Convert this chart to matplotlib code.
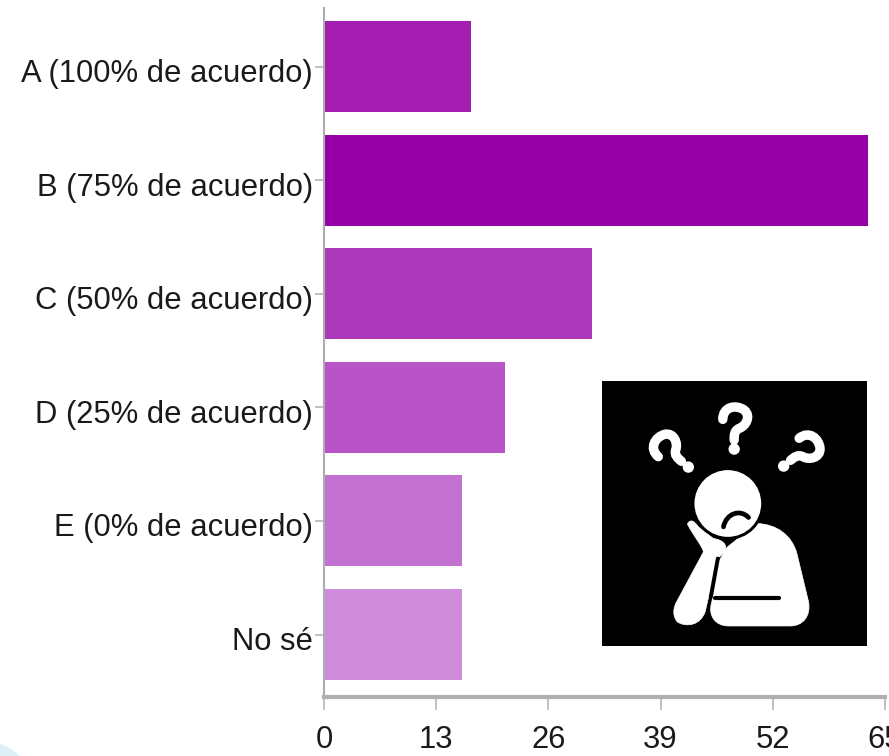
import matplotlib
matplotlib.use("Agg")
import matplotlib.pyplot as plt
from matplotlib.patches import Circle, PathPatch, Polygon
from matplotlib.path import Path
from matplotlib.transforms import Affine2D, ScaledTranslation

W, H = 889, 756
categories = ["A (100% de acuerdo)", "B (75% de acuerdo)", "C (50% de acuerdo)",
              "D (25% de acuerdo)", "E (0% de acuerdo)", "No sé"]
values = [17, 63, 31, 21, 16, 16]
colors = ["#A21DB0", "#9600A6", "#AC38B9", "#B854C7", "#C372D1", "#CF8CDB"]
xticks = [0, 13, 26, 39, 52, 65]

family = "Liberation Sans"
size = 22.3

fig = plt.figure(figsize=(W / 100, H / 100), dpi=100, facecolor="white")
def box(x0, y0, x1, y1):
    return [x0 / W, 1 - y1 / H, (x1 - x0) / W, (y1 - y0) / H]

fig.add_artist(Polygon([(0, 0), (0, 12 / H), (8 / W, 9 / H), (20 / W, 0)],
                       transform=fig.transFigure, color="#DCEFF6", lw=0))

ax = fig.add_axes(box(324, 8, 885, 697))
ax.barh(range(len(values)), values, height=0.8, color=colors)
ax.set_xlim(0, 65)
ax.set_ylim(5.55, -0.515)
ax.set_xticks(xticks)
ax.set_yticks(range(len(categories)))
ax.set_yticklabels(categories)
for s in ("top", "right"):
    ax.spines[s].set_visible(False)
ax.spines["left"].set_color("#ADADAD")
ax.spines["left"].set_linewidth(1.5)
ax.spines["bottom"].set_color("#B0B0B0")
ax.spines["bottom"].set_linewidth(3)
ax.tick_params(axis="y", length=6.5, width=1.2, color="#B5B5B5", pad=1.5)
ax.tick_params(axis="x", length=9, width=1.2, color="#B5B5B5", pad=11)
shift = ScaledTranslation(0, -4 / 100, fig.dpi_scale_trans)
for t in ax.get_yticklabels():
    t.set_transform(t.get_transform() + shift)
for t in ax.get_xticklabels() + ax.get_yticklabels():
    t.set_fontfamily(family)
    t.set_fontsize(size)
    t.set_color("#1A1A1A")
    t.set_clip_on(False)

# Thinking-person pictogram, in the pixel space of its own square
ic = fig.add_axes(box(602, 381, 867, 646), facecolor="black")
ic.set_xlim(36, 830)
ic.set_ylim(827, 33)
ic.set_xticks([]); ic.set_yticks([])
for s in ic.spines.values():
    s.set_visible(False)

M, L, C, Z = Path.MOVETO, Path.LINETO, Path.CURVE4, Path.CLOSEPOLY
body = [(M, (500, 460)), (C, (560, 462)), (C, (605, 495)), (C, (620, 550)),
        (L, (655, 695)), (C, (662, 735)), (C, (640, 767)), (C, (600, 767)),
        (L, (415, 767)), (C, (375, 767)), (C, (352, 735)), (C, (365, 695)),
        (L, (388, 570)), (L, (412, 530)), (L, (500, 460)), (Z, (500, 460))]
arm = [(M, (292, 462)), (C, (300, 445)), (C, (312, 452)), (C, (325, 470)),
       (L, (370, 505)), (C, (405, 510)), (C, (412, 530)), (C, (405, 545)),
       (L, (382, 565)), (L, (345, 725)), (C, (330, 765)), (C, (290, 772)),
       (C, (262, 755)), (C, (245, 735)), (C, (250, 710)), (C, (262, 690)),
       (L, (340, 545)), (C, (335, 525)), (C, (312, 500)), (C, (292, 462)), (Z, (292, 462))]
for spec in (body, arm):
    codes, pts = zip(*spec)
    ic.add_patch(PathPatch(Path(pts, codes), fc="white", ec="white", lw=0.5))
ic.add_patch(Circle((413, 400), 109, fc="black", ec="none", zorder=2))
ic.add_patch(Circle((413, 400), 100, fc="white", ec="none", zorder=3))
ic.plot([383, 362], [565, 680], color="black", lw=2.8, zorder=4, solid_capstyle="round")
ic.plot([375, 565], [683, 683], color="black", lw=3, zorder=4, solid_capstyle="round")
frown = Path([(400, 470), (408, 430), (450, 415), (475, 442)], [M, C, C, C])
ic.add_patch(PathPatch(frown, fc="none", ec="black", lw=3.4, capstyle="round", zorder=4))

# Question marks: one outline placed three times
hook = Path([(-34, -2), (-34, -40), (5, -48), (30, -30), (52, -12), (35, 18), (15, 25),
             (0, 32), (0, 45), (0, 60)],
            [M, C, C, C, C, C, C, C, C, C])
for cx, cy, angle in ((432, 150, 0), (228, 235, -50), (647, 232, 50)):
    place = Affine2D().rotate_deg(angle).translate(cx, cy)
    ic.add_patch(PathPatch(hook.transformed(place), fc="none", ec="white", lw=6.8,
                           capstyle="round", zorder=4))
    ic.add_patch(Circle(place.transform((0, 87)), 17, fc="white", ec="none", zorder=4))

fig.savefig("out.png", dpi=100, facecolor="white")
